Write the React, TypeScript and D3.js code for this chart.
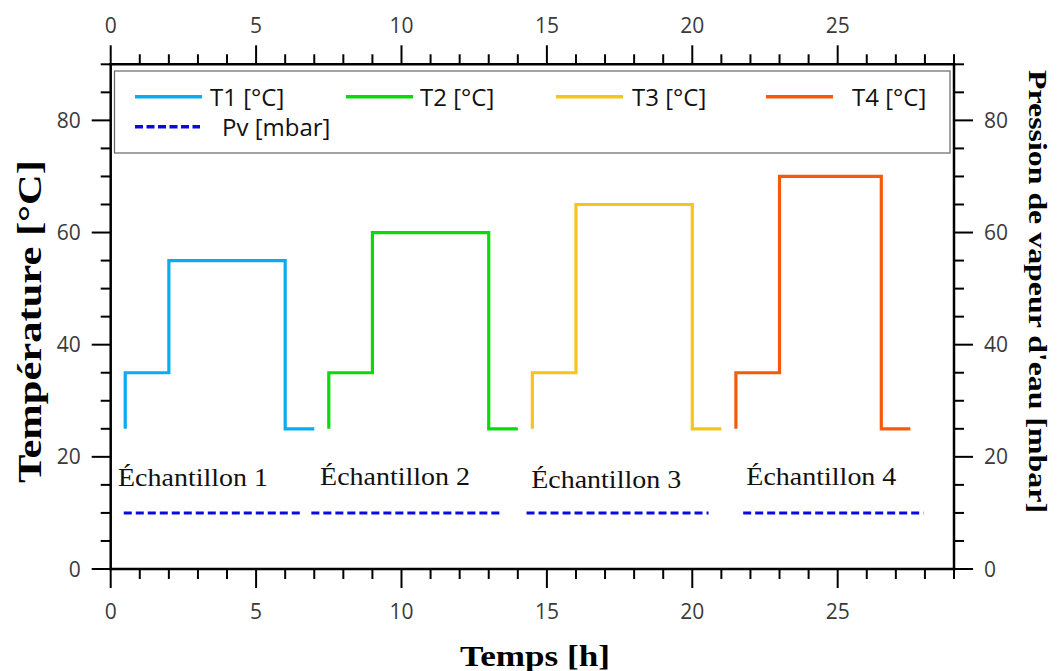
import React from "react";
import * as d3 from "d3";

// ---- data ----
const seriesNames = ["T1 [°C]", "T2 [°C]", "T3 [°C]", "T4 [°C]"];
const seriesColors = ["#0aabf2", "#0bd90b", "#f7c31d", "#f55a0c"];
const t1X = [0.5, 0.5, 2, 6, 7];
const t1Y = [25, 35, 55, 25, 25];
const t2X = [7.5, 7.5, 9, 13, 14];
const t2Y = [25, 35, 60, 25, 25];
const t3X = [14.5, 14.5, 16, 20, 21];
const t3Y = [25, 35, 65, 25, 25];
const t4X = [21.5, 21.5, 23, 26.5, 27.5];
const t4Y = [25, 35, 70, 25, 25];
const pvName = "Pv [mbar]";
const pvColor = "#0a0ae0";
const pvStart = [0.45, 6.9, 14.3, 21.75];
const pvEnd = [6.57, 13.5, 20.56, 27.95];
const pvValue = [10, 10, 10, 10];
const sampleLabels = ["Échantillon 1", "Échantillon 2", "Échantillon 3", "Échantillon 4"];
const sampleLabelX = [0.25, 7.2, 14.46, 21.86];
const sampleLabelY = [14.8, 14.9, 14.4, 14.9];
const xMajorTicks = [0, 5, 10, 15, 20, 25];
const yMajorTicks = [0, 20, 40, 60, 80];
const xLabel = "Temps [h]";
const yLabel = "Température [°C]";
const y2Label = "Pression de vapeur d'eau [mbar]";

const W = 1058;
const H = 671;

export default function App() {
  const x = d3.scaleLinear().domain([0, 29]).range([110.7, 954]);
  const y = d3.scaleLinear().domain([0, 90]).range([569, 64.3]);
  const x0 = x(0), x1 = x(29), y0 = y(0), y1 = y(90);

  const xMinor = d3.range(0, 30, 1).filter((v) => !xMajorTicks.includes(v));
  const yMinor = d3.range(0, 91, 5).filter((v) => !yMajorTicks.includes(v));

  const line = d3
    .line<[number, number]>()
    .x((d) => x(d[0]))
    .y((d) => y(d[1]))
    .curve(d3.curveStepAfter);

  const tSeries = [
    [t1X, t1Y],
    [t2X, t2Y],
    [t3X, t3Y],
    [t4X, t4Y],
  ].map(([xs, ys]) => xs.map((v, i) => [v, ys[i]] as [number, number]));

  const tickFont = { fontFamily: "'Open Sans', sans-serif", fontSize: 21, fill: "#3a3a3a" };
  const major = 19;
  const minorLen = 10;
  const axisColor = "#000";

  const legendRow1 = [
    { lx: 135, tx: 210 },
    { lx: 346, tx: 420 },
    { lx: 556, tx: 632 },
    { lx: 766, tx: 852 },
  ];

  return (
    <svg
      width={W}
      height={H}
      style={{ position: "absolute", left: 0, top: 0, background: "#fff" }}
    >
      <rect x={0} y={0} width={W} height={H} fill="#fff" />

      {/* series */}
      {tSeries.map((pts, i) => (
        <path
          key={i}
          d={line(pts) || ""}
          fill="none"
          stroke={seriesColors[i]}
          strokeWidth={3.2}
          strokeLinejoin="miter"
        />
      ))}
      {pvStart.map((s, i) => (
        <line
          key={i}
          x1={x(s)}
          x2={x(pvEnd[i])}
          y1={y(pvValue[i])}
          y2={y(pvValue[i])}
          stroke={pvColor}
          strokeWidth={3}
          strokeDasharray="8,4"
        />
      ))}

      {/* sample labels */}
      {sampleLabels.map((t, i) => (
        <text
          key={i}
          x={x(sampleLabelX[i])}
          y={y(sampleLabelY[i])}
          fontFamily="'Liberation Serif', serif"
          fontSize={25}
          fill="#111"
          textLength={150}
          lengthAdjust="spacingAndGlyphs"
        >
          {t}
        </text>
      ))}

      {/* legend */}
      <rect x={114.5} y={71} width={835.5} height={82} fill="#fff" stroke="#666" strokeWidth={1.2} />
      {seriesNames.map((n, i) => (
        <g key={i}>
          <line
            x1={legendRow1[i].lx}
            x2={legendRow1[i].lx + 67}
            y1={96.7}
            y2={96.7}
            stroke={seriesColors[i]}
            strokeWidth={3.5}
          />
          <text
            x={legendRow1[i].tx}
            y={105.5}
            fontFamily="'Open Sans', sans-serif"
            fontSize={24}
            fill="#111"
          >
            {n}
          </text>
        </g>
      ))}
      <line x1={135} x2={200} y1={126.7} y2={126.7} stroke={pvColor} strokeWidth={3.5} strokeDasharray="8,3.5" />
      <text x={222} y={135.5} fontFamily="'Open Sans', sans-serif" fontSize={24} fill="#111">
        {pvName}
      </text>

      {/* axes lines */}
      <g stroke={axisColor} strokeWidth={2.5} strokeLinecap="square">
        <line x1={x0} x2={x1} y1={y0} y2={y0} />
        <line x1={x0} x2={x1} y1={y1} y2={y1} />
        <line x1={x0} x2={x0} y1={y0} y2={y1} />
        <line x1={x1} x2={x1} y1={y0} y2={y1} />
      </g>

      {/* x ticks bottom & top */}
      <g stroke={axisColor} strokeWidth={2}>
        {xMajorTicks.map((v) => (
          <g key={"xm" + v}>
            <line x1={x(v)} x2={x(v)} y1={y0} y2={y0 + major} />
            <line x1={x(v)} x2={x(v)} y1={y1} y2={y1 - major} />
          </g>
        ))}
        {xMinor.map((v) => (
          <g key={"xn" + v}>
            <line x1={x(v)} x2={x(v)} y1={y0} y2={y0 + minorLen} />
            <line x1={x(v)} x2={x(v)} y1={y1} y2={y1 - minorLen} />
          </g>
        ))}
        {yMajorTicks.map((v) => (
          <g key={"ym" + v}>
            <line x1={x0} x2={x0 - major} y1={y(v)} y2={y(v)} />
            <line x1={x1} x2={x1 + major} y1={y(v)} y2={y(v)} />
          </g>
        ))}
        {yMinor.map((v) => (
          <g key={"yn" + v}>
            <line x1={x0} x2={x0 - minorLen} y1={y(v)} y2={y(v)} />
            <line x1={x1} x2={x1 + minorLen} y1={y(v)} y2={y(v)} />
          </g>
        ))}
      </g>

      {/* tick labels */}
      {xMajorTicks.map((v) => (
        <g key={"xl" + v}>
          <text x={x(v)} y={y0 + 50} textAnchor="middle" {...tickFont}>
            {v}
          </text>
          <text x={x(v)} y={y1 - 31} textAnchor="middle" {...tickFont}>
            {v}
          </text>
        </g>
      ))}
      {yMajorTicks.map((v) => (
        <g key={"yl" + v}>
          <text x={x0 - 30} y={y(v) + 7.5} textAnchor="end" {...tickFont}>
            {v}
          </text>
          <text x={x1 + 30} y={y(v) + 7.5} textAnchor="start" {...tickFont}>
            {v}
          </text>
        </g>
      ))}

      {/* axis titles */}
      <text
        x={535}
        y={666}
        textAnchor="middle"
        fontFamily="'Liberation Serif', serif"
        fontWeight="bold"
        fontSize={30}
        fill="#000"
        textLength={150}
        lengthAdjust="spacingAndGlyphs"
      >
        {xLabel}
      </text>
      <text
        transform="translate(41,321.5) rotate(-90)"
        textAnchor="middle"
        fontFamily="'Liberation Serif', serif"
        fontWeight="bold"
        fontSize={34}
        fill="#000"
        textLength={323}
        lengthAdjust="spacingAndGlyphs"
      >
        {yLabel}
      </text>
      <text
        transform="translate(1029,291.5) rotate(90)"
        textAnchor="middle"
        fontFamily="'Liberation Serif', serif"
        fontWeight="bold"
        fontSize={26}
        fill="#000"
        textLength={443}
        lengthAdjust="spacingAndGlyphs"
      >
        {y2Label}
      </text>
    </svg>
  );
}
